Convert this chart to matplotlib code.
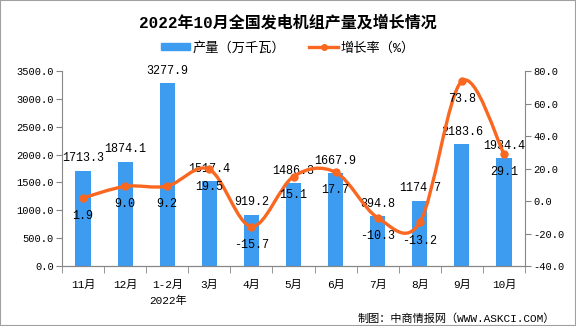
import matplotlib
matplotlib.use("Agg")
import matplotlib.pyplot as plt
import numpy as np
from matplotlib.path import Path
from matplotlib.patches import PathPatch, Rectangle
from matplotlib.lines import Line2D

plt.rcParams["font.family"] = ["Liberation Mono", "Noto Sans CJK SC"]

months = ["11月", "12月", "1-2月", "3月", "4月", "5月", "6月", "7月", "8月", "9月", "10月"]
output = [1713.3, 1874.1, 3277.9, 1517.4, 919.2, 1486.3, 1667.9, 894.8, 1174.7, 2183.6, 1934.4]
growth = [1.9, 9.0, 9.2, 19.5, -15.7, 15.1, 17.7, -10.3, -13.2, 73.8, 29.1]

BAR = "#3d9cf0"
LINE = "#fa6720"
AXIS = "#868686"

fig = plt.figure(figsize=(5.76, 3.26), dpi=100)
ax = fig.add_axes([0.1076, 0.184, 0.8039, 0.598])
ax2 = ax.twinx()

x = np.arange(len(months))
ax.bar(x, output, width=0.36, color=BAR, zorder=2)
ax.set_xlim(-0.5, len(months) - 0.5)
ax.set_ylim(0, 3500)
ax.set_yticks(np.arange(0, 3501, 500))
ax.set_yticklabels([f"{v:.1f}" for v in np.arange(0, 3501, 500)], fontsize=7.5)
ax.set_xticks(x)
ax.set_xticklabels(months, fontsize=8)
ax.tick_params(axis="x", length=0, pad=10)
ax.set_xticks(np.arange(-0.5, len(months)), minor=True)
ax.tick_params(axis="x", which="minor", length=5, color=AXIS)
ax.tick_params(axis="y", length=4, color=AXIS, pad=2)

ax2.set_ylim(-40, 80)
ax2.set_yticks(np.arange(-40, 81, 20))
ax2.set_yticklabels([f"{v:.1f}" for v in np.arange(-40, 81, 20)], fontsize=7.5)
ax2.tick_params(axis="y", length=4, color=AXIS, pad=2)

for a in (ax, ax2):
    a.spines["top"].set_visible(False)
    for s in ("left", "right", "bottom"):
        a.spines[s].set_color(AXIS)
ax2.spines["left"].set_visible(False)
ax.spines["right"].set_visible(False)

# smoothed line (Catmull-Rom as cubic Bezier segments)
pts = np.column_stack([x, growth]).astype(float)
ext = np.vstack([pts[0], pts, pts[-1]])
verts = [pts[0]]
codes = [Path.MOVETO]
for i in range(len(pts) - 1):
    p0, p1, p2, p3 = ext[i], ext[i + 1], ext[i + 2], ext[i + 3]
    verts += [p1 + (p2 - p0) / 6, p2 - (p3 - p1) / 6, p2]
    codes += [Path.CURVE4] * 3
ax2.add_patch(PathPatch(Path(verts, codes), facecolor="none", edgecolor=LINE, lw=2.4, zorder=3))
ax2.plot(x, growth, "o", color=LINE, ms=5, zorder=4)

for xi, v in zip(x, output):
    ax.annotate(f"{v:.1f}", (xi, v), xytext=(0, 9), textcoords="offset points",
                ha="center", va="center", fontsize=8.5, zorder=5)
for xi, v in zip(x, growth):
    ax2.annotate(f"{v:.1f}", (xi, v), xytext=(0, -13), textcoords="offset points",
                 ha="center", va="center", fontsize=8.5, zorder=5)

fig.text(0.5, 0.932, "2022年10月全国发电机组产量及增长情况", ha="center", va="center",
         fontsize=11.5, fontweight="bold")
handles = [Rectangle((0, 0), 1, 1, color=BAR),
           Line2D([], [], color=LINE, lw=2.4, marker="o", ms=4)]
fig.legend(handles, ["产量（万千瓦）", "增长率（%）"], loc="center", bbox_to_anchor=(0.5, 0.853),
           ncol=2, frameon=False, fontsize=9.5, handlelength=2.2, handleheight=0.5,
           columnspacing=1.8, handletextpad=0.2)
fig.text(168 / 576, 1 - 301 / 326, "2022年", ha="center", va="center", fontsize=8)
fig.text(555 / 576, 1 - 319 / 326, "制图：中商情报网（WWW.ASKCI.COM）", ha="right", va="center",
         fontsize=8)
fig.add_artist(Rectangle((0, 0), 1, 1, transform=fig.transFigure, fill=False,
                         edgecolor="#a0a0a0", lw=1.5))

fig.savefig("out.png", dpi=100)
